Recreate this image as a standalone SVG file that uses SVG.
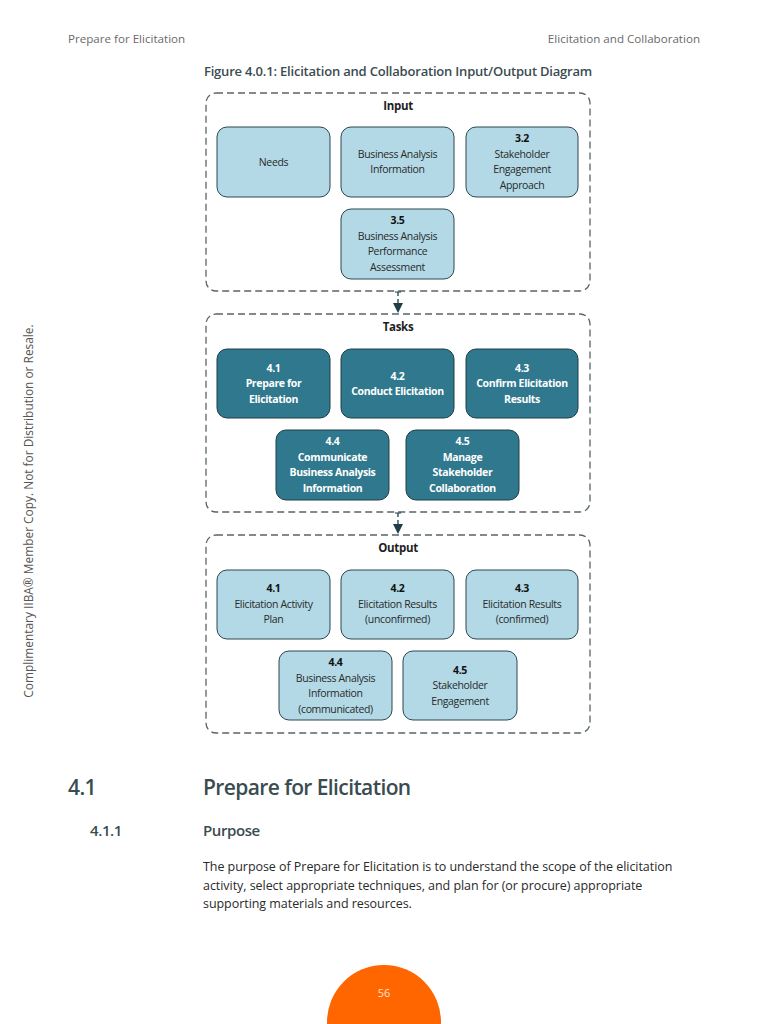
<svg xmlns="http://www.w3.org/2000/svg" width="768" height="1024" viewBox="0 0 768 1024">
<style>
.hdr{font-family:"Open Sans","Liberation Sans",sans-serif;font-size:11.6px;fill:#6a6a6a}
.cont{fill:none;stroke:#5a6468;stroke-width:1.3;stroke-dasharray:7 4}
.ctitle{font-family:"Open Sans","Liberation Sans",sans-serif;font-size:11.5px;font-weight:bold;fill:#1e1e1e;text-anchor:middle;letter-spacing:-0.3px}
.lb{fill:#b2d9e5;stroke:#2c4650;stroke-width:1}
.db{fill:#2f788d;stroke:#1f3e48;stroke-width:1}
.lt{font-family:"Open Sans","Liberation Sans",sans-serif;font-size:10.5px;fill:#2a2a2a;text-anchor:middle;letter-spacing:-0.35px}
.ltb{font-weight:bold;fill:#111}
.dt{font-family:"Open Sans","Liberation Sans",sans-serif;font-size:10.5px;font-weight:bold;fill:#ffffff;text-anchor:middle;letter-spacing:-0.35px}
.h1{font-family:"Open Sans","Liberation Sans",sans-serif;font-size:21px;font-weight:600;fill:#3a4c50;letter-spacing:-0.6px}
.h2{font-family:"Open Sans","Liberation Sans",sans-serif;font-size:15px;font-weight:600;fill:#3a4c50;letter-spacing:-0.4px}
.body{font-family:"Open Sans","Liberation Sans",sans-serif;font-size:12.5px;fill:#2a2a2a;letter-spacing:-0.05px}
</style>
<defs>
<marker id="ah" viewBox="0 0 10 10" refX="10" refY="5" markerWidth="10" markerHeight="10" markerUnits="userSpaceOnUse" orient="auto">
<path d="M0,0 L10,5 L0,10 z" fill="#1f3e48"/>
</marker>
</defs>
<rect width="768" height="1024" fill="#ffffff"/>
<text class="hdr" x="68" y="43">Prepare for Elicitation</text>
<text class="hdr" x="700" y="43" text-anchor="end">Elicitation and Collaboration</text>
<text x="398" y="76" text-anchor="middle" style="font-family:'Open Sans','Liberation Sans',sans-serif;font-size:13px;font-weight:600;fill:#3a4c50;letter-spacing:-0.2px">Figure 4.0.1: Elicitation and Collaboration Input/Output Diagram</text>
<text transform="translate(33,511) rotate(-90)" text-anchor="middle" style="font-family:'Open Sans','Liberation Sans',sans-serif;font-size:11.9px;fill:#555">Complimentary IIBA® Member Copy. Not for Distribution or Resale.</text>

<g id="input">
<rect class="cont" x="206" y="93" width="384" height="198" rx="10"/>
<text class="ctitle" x="398" y="110">Input</text>
</g>
<g id="needs"><rect class="lb" x="217" y="127" width="113" height="70" rx="10"/><text class="lt" x="273.5" y="166">Needs</text></g>
<g id="bainfo"><rect class="lb" x="341" y="127" width="113" height="70" rx="10"/><text class="lt" x="397.5" y="158">Business Analysis</text><text class="lt" x="397.5" y="173">Information</text></g>
<g id="in32"><rect class="lb" x="466" y="127" width="112" height="70" rx="10"/><text class="lt ltb" x="522" y="142">3.2</text><text class="lt" x="522" y="158">Stakeholder</text><text class="lt" x="522" y="173">Engagement</text><text class="lt" x="522" y="189">Approach</text></g>
<g id="in35"><rect class="lb" x="341" y="209" width="113" height="70" rx="10"/><text class="lt ltb" x="397.5" y="224">3.5</text><text class="lt" x="397.5" y="240">Business Analysis</text><text class="lt" x="397.5" y="255">Performance</text><text class="lt" x="397.5" y="271">Assessment</text></g>

<g id="tasks">
<rect class="cont" x="206" y="314" width="384" height="198" rx="10"/>
<text class="ctitle" x="398" y="331">Tasks</text>
</g>
<g id="t41"><rect class="db" x="217" y="349" width="113" height="69" rx="10"/><text class="dt" x="273.5" y="372">4.1</text><text class="dt" x="273.5" y="387">Prepare for</text><text class="dt" x="273.5" y="403">Elicitation</text></g>
<g id="t42"><rect class="db" x="341" y="349" width="113" height="69" rx="10"/><text class="dt" x="397.5" y="380">4.2</text><text class="dt" x="397.5" y="395">Conduct Elicitation</text></g>
<g id="t43"><rect class="db" x="466" y="349" width="112" height="69" rx="10"/><text class="dt" x="522" y="372">4.3</text><text class="dt" x="522" y="387">Confirm Elicitation</text><text class="dt" x="522" y="403">Results</text></g>
<g id="t44"><rect class="db" x="276" y="430" width="113" height="70" rx="10"/><text class="dt" x="332.5" y="445">4.4</text><text class="dt" x="332.5" y="461">Communicate</text><text class="dt" x="332.5" y="476">Business Analysis</text><text class="dt" x="332.5" y="492">Information</text></g>
<g id="t45"><rect class="db" x="406" y="430" width="113" height="70" rx="10"/><text class="dt" x="462.5" y="445">4.5</text><text class="dt" x="462.5" y="461">Manage</text><text class="dt" x="462.5" y="476">Stakeholder</text><text class="dt" x="462.5" y="492">Collaboration</text></g>

<g id="output">
<rect class="cont" x="206" y="535" width="384" height="198" rx="10"/>
<text class="ctitle" x="398" y="552">Output</text>
</g>
<g id="o41"><rect class="lb" x="217" y="570" width="113" height="69" rx="10"/><text class="lt ltb" x="273.5" y="592">4.1</text><text class="lt" x="273.5" y="608">Elicitation Activity</text><text class="lt" x="273.5" y="623">Plan</text></g>
<g id="o42"><rect class="lb" x="341" y="570" width="113" height="69" rx="10"/><text class="lt ltb" x="397.5" y="592">4.2</text><text class="lt" x="397.5" y="608">Elicitation Results</text><text class="lt" x="397.5" y="623">(unconfirmed)</text></g>
<g id="o43"><rect class="lb" x="466" y="570" width="112" height="69" rx="10"/><text class="lt ltb" x="522" y="592">4.3</text><text class="lt" x="522" y="608">Elicitation Results</text><text class="lt" x="522" y="623">(confirmed)</text></g>
<g id="o44"><rect class="lb" x="279" y="651" width="113" height="69" rx="10"/><text class="lt ltb" x="335.5" y="666">4.4</text><text class="lt" x="335.5" y="682">Business Analysis</text><text class="lt" x="335.5" y="697">Information</text><text class="lt" x="335.5" y="713">(communicated)</text></g>
<g id="o45"><rect class="lb" x="403" y="651" width="114" height="69" rx="10"/><text class="lt ltb" x="460" y="674">4.5</text><text class="lt" x="460" y="689">Stakeholder</text><text class="lt" x="460" y="705">Engagement</text></g>

<g id="connectors">
<line x1="395" y1="292" x2="401" y2="292" stroke="#1f3e48" stroke-width="1"/>
<line x1="398" y1="292" x2="398" y2="313" stroke="#1f3e48" stroke-width="1.3" stroke-dasharray="4 3" marker-end="url(#ah)"/>
<line x1="395" y1="513" x2="401" y2="513" stroke="#1f3e48" stroke-width="1"/>
<line x1="398" y1="513" x2="398" y2="534" stroke="#1f3e48" stroke-width="1.3" stroke-dasharray="4 3" marker-end="url(#ah)"/>
</g>

<text class="h1" x="68" y="795">4.1</text>
<text class="h1" x="203" y="795">Prepare for Elicitation</text>
<text class="h2" x="90" y="836">4.1.1</text>
<text class="h2" x="203" y="836">Purpose</text>
<text class="body" x="203" y="871">The purpose of Prepare for Elicitation is to understand the scope of the elicitation</text>
<text class="body" x="203" y="890">activity, select appropriate techniques, and plan for (or procure) appropriate</text>
<text class="body" x="203" y="908">supporting materials and resources.</text>

<circle cx="384" cy="1022" r="57" fill="#ff6600"/>
<text x="384" y="997" text-anchor="middle" style="font-family:'Open Sans','Liberation Sans',sans-serif;font-size:11px;fill:#ffe0cc">56</text>
</svg>
